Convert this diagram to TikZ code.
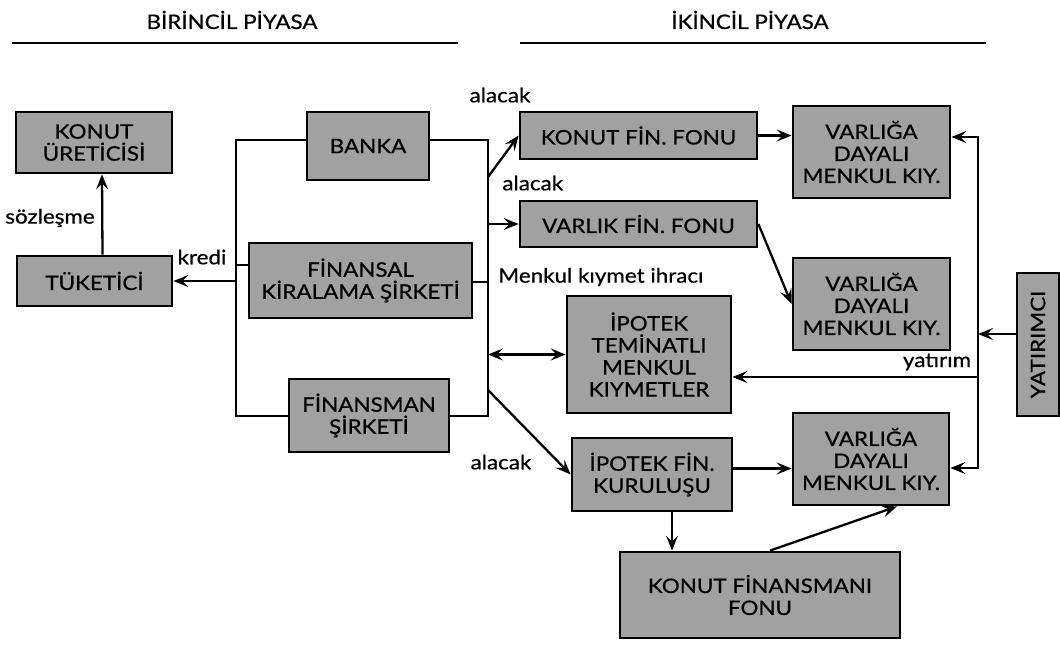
\documentclass[tikz,border=0pt]{standalone}
\usepackage{fontspec}
\setmainfont[FakeStretch=1.12,FakeBold=0.6]{Lato}
\usepackage{tikz}
\usetikzlibrary{arrows.meta,positioning}
\definecolor{boxgray}{gray}{0.63}
\tikzset{box/.style={rectangle, draw=black, fill=boxgray, line width=1.4pt,
inner sep=1pt, align=center, font=\fontsize{10}{11}\selectfont},
lbl/.style={inner sep=1pt, font=\fontsize{10}{11}\selectfont},
link/.style={line width=1.15pt},
hline/.style={line width=1.2pt},
>={Stealth[length=7.5pt,width=6pt,inset=3pt]}}
\newcommand{\pbox}[6]{
\node (#1) [box, minimum width={(#4-#2)*0.5pt}, minimum height={(#5-#3)*0.5pt}] at ({(#2+#4)/2},{(#3+#5)/2}) {#6};
}

\begin{document}
\begin{tikzpicture}[x=0.5pt,y=-0.5pt]
  \useasboundingbox (0,0) rectangle (1060,644);

  \node (hbir) [lbl] at (232,20) {BİRİNCİL PİYASA};
  \node (hiki) [lbl] at (750,20) {İKİNCİL PİYASA};
  \draw [hline] (12,43) -- (458,43);
  \draw [hline] (520,43) -- (986,43);

  \pbox{uretici}{16}{112}{172}{173}{KONUT\\ÜRETİCİSİ}
  \pbox{tuketici}{17}{256}{172}{306}{TÜKETİCİ}
  \pbox{banka}{307}{112}{429}{180}{BANKA}
  \pbox{finkir}{249}{243}{472}{318}{FİNANSAL\\KİRALAMA ŞİRKETİ}
  \pbox{finsirket}{289}{379}{449}{452}{FİNANSMAN\\ŞİRKETİ}
  \pbox{konutfon}{520}{112}{757}{159}{KONUT FİN. FONU}
  \pbox{varlikfon}{520}{201}{757}{247}{VARLIK FİN. FONU}
  \pbox{ipotekmk}{567}{296}{731}{413}{İPOTEK\\TEMİNATLI\\MENKUL\\KIYMETLER}
  \pbox{ipotekfin}{572}{438}{732}{511}{İPOTEK FİN.\\KURULUŞU}
  \pbox{konutfin}{620}{552}{900}{638}{KONUT FİNANSMANI\\FONU}
  \pbox{vdmk1}{793}{106}{950}{198}{VARLIĞA\\DAYALI\\MENKUL KIY.}
  \pbox{vdmk2}{793}{258}{950}{350}{VARLIĞA\\DAYALI\\MENKUL KIY.}
  \pbox{vdmk3}{793}{413}{949}{505}{VARLIĞA\\DAYALI\\MENKUL KIY.}
  \pbox{yatirimci}{1017}{273}{1059}{416}{\rotatebox{90}{YATIRIMCI}}

  \coordinate (lt) at (236,140);
  \coordinate (lb) at (236,416);
  \coordinate (rt) at (488,140);
  \coordinate (rb) at (488,416);
  \coordinate (fl) at (236,265);
  \coordinate (fr) at (488,282);
  \draw [link] (banka.west |- lt) -- (lt) -- (lb) -- (finsirket.west |- lb);
  \draw [link] (banka.east |- rt) -- (rt) -- (rb) -- (finsirket.east |- rb);
  \draw [link] (fl) -- (fl -| finkir.west);
  \draw [link] (fr) -- (fr -| finkir.east);

  \draw [link,->] (lt |- tuketici.east) -- (tuketici.east);
  \draw [link,->] ([xshift=4pt]tuketici.north) -- ([xshift=4pt]uretici.south);
  \node (lkredi) [lbl] at (202,257) {kredi};
  \node (lsoz) [lbl] at (50,218) {sözleşme};

  \coordinate (a1) at (488,177);
  \coordinate (a4) at (488,390);
  \draw [link,->] (a1) -- (konutfon.west);
  \draw [link,->] (rt |- varlikfon.west) -- (varlikfon.west);
  \draw [link,<->] (rt |- ipotekmk.west) -- (ipotekmk.west);
  \draw [link,->] (a4) -- (ipotekfin.west);
  \draw [link,->] (konutfon.east) -- (konutfon.east -| vdmk1.west);
  \draw [link,->] (varlikfon.east) -- (vdmk2.west);
  \draw [link,->] ([yshift=3pt]ipotekfin.east) -- ([yshift=3pt]ipotekfin.east -| vdmk3.west);
  \draw [link,->] ([xshift=10pt]ipotekfin.south) -- ([xshift=10pt]ipotekfin.south |- konutfin.north);
  \draw [link,->] ([xshift=5pt]konutfin.north) -- ([xshift=13pt]vdmk3.south);

  \coordinate (vt) at (978,137);
  \coordinate (vb) at (978,468);
  \coordinate (vy) at (978,334);
  \coordinate (vm) at (978,377);
  \draw [link,<->] (vt -| vdmk1.east) -- (vt) -- (vb) -- (vb -| vdmk3.east);
  \draw [link,->] (vy -| yatirimci.west) -- (vy);
  \draw [link,->] (vm) -- (vm -| ipotekmk.east);

  \node (lal1) [lbl] at (500,95) {alacak};
  \node (lal2) [lbl, anchor=west] at (500,183) {alacak};
  \node (lal3) [lbl] at (501,462) {alacak};
  \node (lmki) [lbl, anchor=west] at (496,277) {Menkul kıymet ihracı};
  \node (lyat) [lbl] at (937,362) {yatırım};
\end{tikzpicture}
\end{document}
